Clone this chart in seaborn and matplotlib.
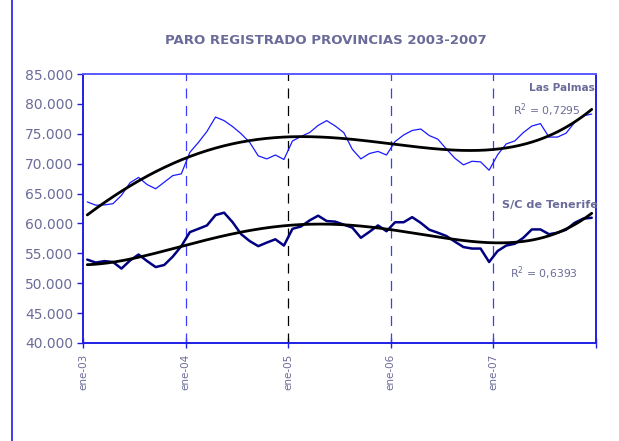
import numpy as np
import pandas as pd
import seaborn as sns
import matplotlib.pyplot as plt
from matplotlib.ticker import FuncFormatter

# Paro registrado mensual, ene-03 a dic-07 (miles)
las_palmas = [63.6, 63.05, 63.1, 63.3, 64.7, 66.8, 67.7, 66.5, 65.8, 66.9, 68.0, 68.3,
              71.9, 73.55, 75.4, 77.8, 77.2, 76.2, 75.0, 73.55, 71.3, 70.8, 71.45, 70.7,
              73.8, 74.55, 75.2, 76.4, 77.2, 76.3, 75.2, 72.4, 70.8, 71.7, 72.05, 71.45,
              73.7, 74.8, 75.55, 75.8, 74.7, 74.1, 72.45, 70.9, 69.8, 70.4, 70.3, 68.9,
              71.5, 73.3, 73.8, 75.2, 76.3, 76.7, 74.45, 74.45, 75.1, 76.9, 78.0, 78.3]
tenerife = [53.95, 53.45, 53.7, 53.55, 52.45, 53.8, 54.8, 53.7, 52.7, 53.05, 54.45, 56.2,
            58.55, 59.1, 59.67, 61.4, 61.8, 60.2, 58.2, 57.05, 56.2, 56.8, 57.35, 56.3,
            59.1, 59.5, 60.5, 61.3, 60.4, 60.3, 59.8, 59.3, 57.6, 58.6, 59.67, 58.7,
            60.2, 60.2, 61.05, 60.1, 58.95, 58.45, 57.9, 56.95, 56.05, 55.8, 55.8, 53.55,
            55.4, 56.3, 56.6, 57.6, 59.0, 59.0, 58.2, 58.45, 58.95, 60.1, 60.8, 60.95]
year_labels = ['ene-03', 'ene-04', 'ene-05', 'ene-06', 'ene-07']
r2_labels = ['R$^2$ = 0,7295', 'R$^2$ = 0,6393']

mes = np.arange(len(las_palmas))
df = pd.DataFrame({'mes': mes + 0.5,
                   'Las Palmas': np.array(las_palmas) * 1000,
                   'S/C de Tenerife': np.array(tenerife) * 1000})

sns.set_style('white')
fig = plt.figure(figsize=(6.19, 4.41), dpi=100)
ax = fig.add_axes([83 / 619, 1 - 343 / 441, 513 / 619, 269 / 441])

text_col = '#6b6b9a'
frame_col = '#1f1fe6'

# lineas verticales de cada año
for i, c in zip([12, 24, 36, 48], ['#3c3cff', '#000000', '#3c3cff', '#3c3cff']):
    ax.axvline(i, color=c, lw=0.9, ls=(0, (8, 6)), zorder=1)

sns.lineplot(data=df, x='mes', y='Las Palmas', ax=ax, color='#1a1aff', lw=0.9, zorder=3)
sns.lineplot(data=df, x='mes', y='S/C de Tenerife', ax=ax, color='#000080', lw=1.8, zorder=3)

# líneas de tendencia polinómicas (orden 4, como en Excel)
xs = np.linspace(0.5, len(mes) - 0.5, 300)
for col in ['Las Palmas', 'S/C de Tenerife']:
    p = np.polynomial.Polynomial.fit(df['mes'], df[col], 4)
    sns.lineplot(x=xs, y=p(xs), ax=ax, color='black', lw=2.0, zorder=4)

ax.set_xlim(0, 60)
ax.set_ylim(40000, 85000)
ax.set_yticks(np.arange(40000, 85001, 5000))
ax.yaxis.set_major_formatter(FuncFormatter(lambda v, p: f'{v:,.0f}'.replace(',', '.')))
ax.set_xticks([0, 12, 24, 36, 48, 60])
ax.set_xticklabels(year_labels + [''], rotation=90, fontsize=7.5, color=text_col)
ax.tick_params(axis='y', labelsize=10, labelcolor=text_col, color=frame_col,
               length=4, width=1, direction='out', left=True, pad=3)
ax.tick_params(axis='x', color=frame_col, length=7, width=1, direction='inout', bottom=True, pad=4)
ax.set_xlabel('')
ax.set_ylabel('')
for s in ax.spines.values():
    s.set_color(frame_col)
    s.set_linewidth(1.4)
ax.spines['top'].set_color('#5a5aff')

ax.text(59.8, 82700, 'Las Palmas', ha='right', va='center', fontsize=7.6,
        fontweight='bold', color=text_col)
ax.text(58.2, 78900, r2_labels[0], ha='right', va='center', fontsize=7.8, color=text_col)
ax.text(60.2, 63050, 'S/C de Tenerife', ha='right', va='center', fontsize=8.1,
        fontweight='bold', color=text_col, clip_on=False)
ax.text(57.9, 51700, r2_labels[1], ha='right', va='center', fontsize=7.8, color=text_col)

fig.text(326 / 619, 1 - 40 / 441, 'PARO REGISTRADO PROVINCIAS 2003-2007', ha='center',
         va='center', fontsize=9.5, fontweight='bold', color=text_col)
fig.add_artist(plt.Line2D([12 / 619, 12 / 619], [0, 1], color=frame_col, lw=1.2))

fig.savefig('out.png', dpi=100)
